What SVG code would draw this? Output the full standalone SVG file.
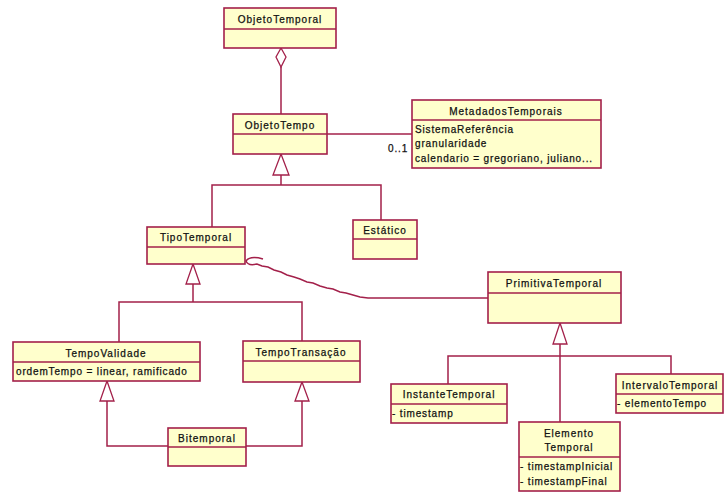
<svg xmlns="http://www.w3.org/2000/svg" width="725" height="492" viewBox="0 0 725 492">
  <style>
    .box { fill: #ffffcc; stroke: #a3204a; stroke-width: 1.6; }
    .div { stroke: #a3204a; stroke-width: 1.5; }
    .ln { fill: none; stroke: #a3204a; stroke-width: 1.5; }
    .tri { fill: #ffffff; stroke: #a3204a; stroke-width: 1.3; }
    text { font-family: "Liberation Sans", Arial, sans-serif; font-size: 10px; fill: #111111; stroke: #111111; stroke-width: 0.25; letter-spacing: 0.85px; }
    .h { text-anchor: middle; letter-spacing: 1px; }
  </style>
  <rect width="725" height="492" fill="#ffffff"/>

  <!-- connectors -->
  <g id="connectors">
    <!-- aggregation ObjetoTemporal <>- ObjetoTempo -->
    <line class="ln" x1="281" y1="67" x2="281" y2="114"/>
    <path class="tri" d="M281,48 L286,57 L281,67 L276,57 Z"/>
    <!-- association ObjetoTempo - MetadadosTemporais -->
    <line class="ln" x1="327" y1="134" x2="412" y2="134"/>
    <text x="388" y="152">0..1</text>
    <!-- generalization to ObjetoTempo -->
    <polyline class="ln" points="212,227 212,185 381,185 381,220"/>
    <line class="ln" x1="281" y1="175" x2="281" y2="185"/>
    <path class="tri" d="M281,154 L289,175 L273,175 Z"/>
    <!-- generalization to TipoTemporal -->
    <polyline class="ln" points="119,342 119,302 302,302 302,341"/>
    <line class="ln" x1="193" y1="284" x2="193" y2="302"/>
    <path class="tri" d="M193,264 L200,284 L186,284 Z"/>
    <!-- Bitemporal to TempoValidade / TempoTransacao -->
    <polyline class="ln" points="107,401 107,446 168,446"/>
    <path class="tri" d="M107,381 L114,401 L100,401 Z"/>
    <polyline class="ln" points="302,401 302,446 246,446"/>
    <path class="tri" d="M302,382 L309,401 L295,401 Z"/>
    <!-- TipoTemporal ~ PrimitivaTemporal -->
    <path class="ln" stroke-width="1.3" d="M263,259 C256,257 249,257 246,261 C248,266 253,265 257,264 L262,266 L268,267 L274,270 L281,272 L287,275 L294,277 L300,279 L307,282 L313,283 L320,286 L327,288 L333,289 L340,292 L346,293 L353,295 L360,297 L368,298 L488,298"/>
    <!-- generalization to PrimitivaTemporal -->
    <polyline class="ln" points="448,384 448,356 671,356 671,374"/>
    <line class="ln" x1="560" y1="344" x2="560" y2="422"/>
    <path class="tri" d="M560,323 L567,344 L553,344 Z"/>
  </g>

  <g id="ObjetoTemporal">
    <rect class="box" x="224" y="8" width="112" height="40"/>
    <line class="div" x1="224" y1="29" x2="336" y2="29"/>
    <text class="h" x="280" y="23">ObjetoTemporal</text>
  </g>

  <g id="ObjetoTempo">
    <rect class="box" x="233" y="114" width="94" height="40"/>
    <line class="div" x1="233" y1="134" x2="327" y2="134"/>
    <text class="h" x="280" y="129">ObjetoTempo</text>
  </g>

  <g id="MetadadosTemporais">
    <rect class="box" x="412" y="100" width="189" height="68"/>
    <line class="div" x1="412" y1="120" x2="601" y2="120"/>
    <text class="h" x="506" y="115">MetadadosTemporais</text>
    <text x="415" y="133">SistemaReferência</text>
    <text x="415" y="147">granularidade</text>
    <text x="415" y="162">calendario = gregoriano, juliano...</text>
  </g>

  <g id="TipoTemporal">
    <rect class="box" x="147" y="227" width="98" height="37"/>
    <line class="div" x1="147" y1="247" x2="245" y2="247"/>
    <text class="h" x="196" y="241">TipoTemporal</text>
  </g>

  <g id="Estatico">
    <rect class="box" x="353" y="220" width="64" height="39"/>
    <line class="div" x1="353" y1="239" x2="417" y2="239"/>
    <text class="h" x="385" y="234">Estático</text>
  </g>

  <g id="TempoValidade">
    <rect class="box" x="13" y="342" width="187" height="39"/>
    <line class="div" x1="13" y1="362" x2="200" y2="362"/>
    <text class="h" x="106" y="357">TempoValidade</text>
    <text x="16" y="375">ordemTempo = linear, ramificado</text>
  </g>

  <g id="TempoTransacao">
    <rect class="box" x="243" y="341" width="117" height="41"/>
    <line class="div" x1="243" y1="361" x2="360" y2="361"/>
    <text class="h" x="301" y="356">TempoTransação</text>
  </g>

  <g id="Bitemporal">
    <rect class="box" x="168" y="428" width="78" height="38"/>
    <line class="div" x1="168" y1="447" x2="246" y2="447"/>
    <text class="h" x="207" y="442">Bitemporal</text>
  </g>

  <g id="PrimitivaTemporal">
    <rect class="box" x="488" y="272" width="133" height="51"/>
    <line class="div" x1="488" y1="293" x2="621" y2="293"/>
    <text class="h" x="554" y="287">PrimitivaTemporal</text>
  </g>

  <g id="InstanteTemporal">
    <rect class="box" x="391" y="384" width="116" height="39"/>
    <line class="div" x1="391" y1="404" x2="507" y2="404"/>
    <text class="h" x="449" y="398">InstanteTemporal</text>
    <text x="392" y="417">- timestamp</text>
  </g>

  <g id="ElementoTemporal">
    <rect class="box" x="519" y="422" width="101" height="69"/>
    <line class="div" x1="519" y1="457" x2="620" y2="457"/>
    <text class="h" x="569" y="437">Elemento</text>
    <text class="h" x="569" y="451">Temporal</text>
    <text x="520" y="470">- timestampInicial</text>
    <text x="520" y="485">- timestampFinal</text>
  </g>

  <g id="IntervaloTemporal">
    <rect class="box" x="616" y="374" width="107" height="39"/>
    <line class="div" x1="616" y1="394" x2="723" y2="394"/>
    <text class="h" x="670" y="389">IntervaloTemporal</text>
    <text x="617" y="407">- elementoTempo</text>
  </g>
</svg>
